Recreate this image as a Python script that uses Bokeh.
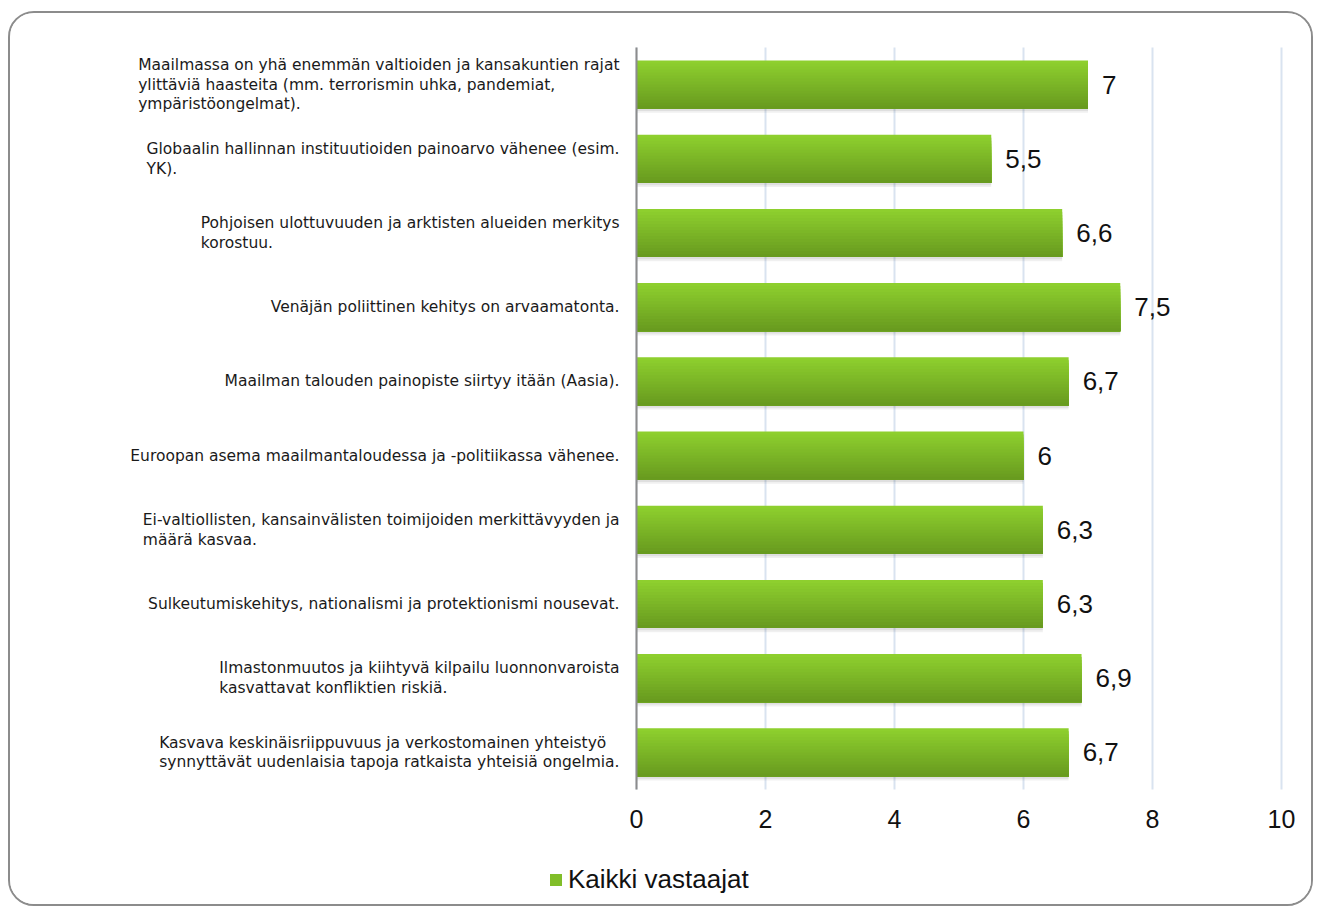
import glob
from bokeh.plotting import figure
from bokeh.models import (Range1d, Legend, LegendItem, FixedTicker, Label)
from bokeh.embed import file_html
from bokeh.resources import INLINE

categories = [
    "Maailmassa on yhä enemmän valtioiden ja kansakuntien rajat\nylittäviä haasteita (mm. terrorismin uhka, pandemiat,\nympäristöongelmat).",
    "Globaalin hallinnan instituutioiden painoarvo vähenee (esim.\nYK).",
    "Pohjoisen ulottuvuuden ja arktisten alueiden merkitys\nkorostuu.",
    "Venäjän poliittinen kehitys on arvaamatonta.",
    "Maailman talouden painopiste siirtyy itään (Aasia).",
    "Euroopan asema maailmantaloudessa ja -politiikassa vähenee.",
    "Ei-valtiollisten, kansainvälisten toimijoiden merkittävyyden ja\nmäärä kasvaa.",
    "Sulkeutumiskehitys, nationalismi ja protektionismi nousevat.",
    "Ilmastonmuutos ja kiihtyvä kilpailu luonnonvaroista\nkasvattavat konfliktien riskiä.",
    "Kasvava keskinäisriippuvuus ja verkostomainen yhteistyö\nsynnyttävät uudenlaisia tapoja ratkaista yhteisiä ongelmia.",
]
values = [7, 5.5, 6.6, 7.5, 6.7, 6, 6.3, 6.3, 6.9, 6.7]
x_ticks = [0, 2, 4, 6, 8, 10]
series_name = "Kaikki vastaajat"

CAT_FONT = "DejaVu Sans"
CAT_SIZE = 15.5

# text width measurement (for left-aligned lines inside a right-aligned block)
_font = None
try:
    from PIL import ImageFont
    cands = glob.glob("/usr/share/fonts/**/DejaVuSans.ttf", recursive=True)
    _font = ImageFont.truetype(cands[0] if cands else "DejaVuSans.ttf", int(CAT_SIZE * 4))
except Exception:
    _font = None


def text_width(s):
    if _font is not None:
        try:
            return _font.getlength(s) / 4.0
        except Exception:
            pass
    return len(s) * 0.56 * CAT_SIZE


# ---- layout geometry (pixels inside the canvas) ----
W, H = 1305, 895
PX0, PX10 = 626, 1271          # screen x of value 0 and value 10
PY_TOP, PY_BOT = 34, 776       # screen y of top / bottom of the bar band
ncat = len(values)
xs = (PX10 - PX0) / 10.0
ys_ = (PY_BOT - PY_TOP) / float(ncat)
x_start = -PX0 / xs
x_end = 10 + (W - PX10) / xs
y_top = -0.5 - PY_TOP / ys_
y_bot = ncat - 0.5 + (H - PY_BOT) / ys_

p = figure(width=W, height=H, output_backend="svg", toolbar_location=None,
           x_range=Range1d(x_start, x_end), y_range=Range1d(y_bot, y_top),
           min_border=0, min_border_left=0, min_border_right=0,
           min_border_top=0, min_border_bottom=0,
           styles={"margin-left": "8px", "margin-top": "11px",
                   "border": "2px solid #8c8c8c", "border-radius": "26px",
                   "overflow": "hidden"})
p.outline_line_color = None
p.background_fill_color = "white"
p.border_fill_color = "white"
p.grid.visible = False

ypos = list(range(ncat))
h = 0.65

# vertical gridlines limited to the bar band
p.segment(x0=x_ticks, y0=[-0.5] * len(x_ticks), x1=x_ticks,
          y1=[ncat - 0.5] * len(x_ticks), line_color="#d9e3f0", line_width=2)

# soft shadow under bars
p.hbar(y=[y + 0.055 for y in ypos], left=0, right=values, height=h,
       fill_color="black", fill_alpha=0.06, line_color=None)
p.hbar(y=[y + 0.03 for y in ypos], left=0, right=values, height=h,
       fill_color="black", fill_alpha=0.07, line_color=None)

# vertical gradient: overlapping layers from each strip top to bar bottom
top = (0x8e, 0xcf, 0x2e)
bot = (0x68, 0x9b, 0x1f)
n = 16
legend_renderer = None
for k in range(n):
    t = k / (n - 1)
    c = tuple(int(round(top[j] + (bot[j] - top[j]) * t)) for j in range(3))
    col = "#%02x%02x%02x" % c
    t0 = k * h / n
    yy = [y - h / 2 + t0 + (h - t0) / 2 for y in ypos]
    r = p.hbar(y=yy, left=0, right=values, height=h - t0,
               fill_color=col, line_color=None)
    if k == n // 3:
        legend_renderer = r

# y axis line at x = 0 (category texts drawn as labels below)
ya = p.yaxis[0]
ya.fixed_location = 0
ya.bounds = (-0.5, ncat - 0.5)
ya.ticker = FixedTicker(ticks=[])
ya.axis_line_color = "#8c8c8c"
ya.axis_line_width = 2
ya.major_tick_line_color = None
ya.minor_tick_line_color = None
ya.major_tick_out = 0
ya.major_tick_in = 0

STANDOFF = 17
for y, c in zip(ypos, categories):
    lines = c.split("\n")
    if len(lines) == 1:
        lab = Label(x=0, y=y, x_offset=-STANDOFF, text=c, text_align="right",
                    text_baseline="middle")
    else:
        wmax = max(text_width(s) for s in lines)
        lab = Label(x=0, y=y, x_offset=-STANDOFF - wmax, text=c, text_align="left",
                    text_baseline="middle")
    lab.text_font = CAT_FONT
    lab.text_font_size = "%gpx" % CAT_SIZE
    lab.text_color = "#1a1a1a"
    lab.text_line_height = 1.1
    p.add_layout(lab)

# x axis under the bar band
ax = p.xaxis[0]
ax.fixed_location = ncat - 0.5
ax.bounds = (0, 10)
ax.ticker = FixedTicker(ticks=x_ticks)
ax.axis_line_color = None
ax.major_tick_line_color = None
ax.minor_tick_line_color = None
ax.major_tick_out = 0
ax.major_tick_in = 0
ax.major_label_standoff = 20
ax.major_label_text_font = "Liberation Sans"
ax.major_label_text_font_size = "25px"
ax.major_label_text_color = "#111111"

# value labels
for y, v in zip(ypos, values):
    txt = ("%g" % v).replace(".", ",")
    p.add_layout(Label(x=v, y=y, x_offset=14, text=txt, text_align="left",
                       text_baseline="middle", text_font="Liberation Sans",
                       text_font_size="26px", text_color="#111111"))

legend = Legend(items=[LegendItem(label=series_name, renderers=[legend_renderer])],
                location=(538, 13), orientation="horizontal",
                padding=0, margin=0, spacing=0,
                glyph_width=15, glyph_height=15, label_standoff=5,
                label_height=30, label_text_font="Liberation Sans",
                label_text_font_size="26px", label_text_color="#111111",
                border_line_color=None, background_fill_alpha=0)
p.add_layout(legend)

open("out.html", "w").write(file_html(p, INLINE))
